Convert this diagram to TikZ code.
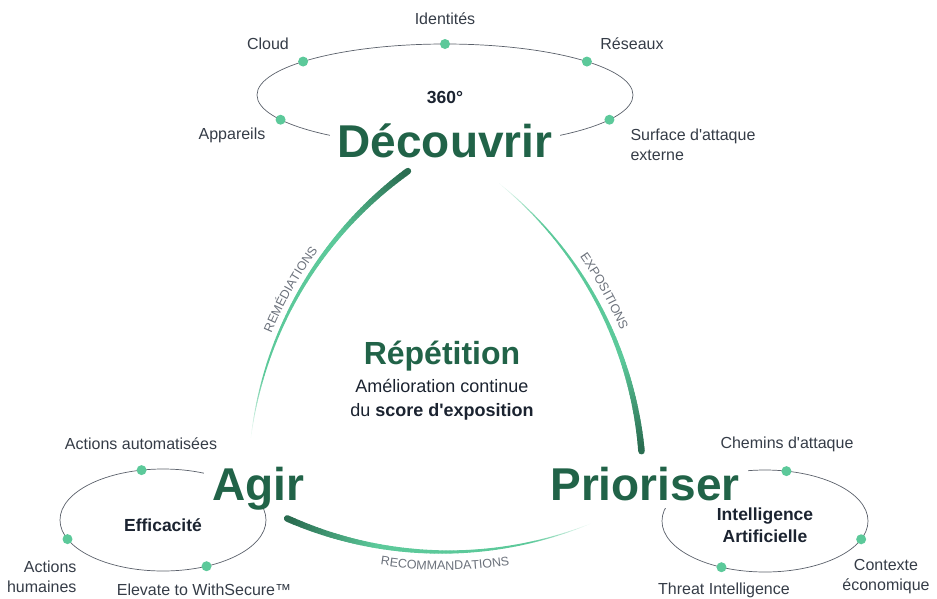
\documentclass[tikz,border=0pt]{standalone}
\usepackage{fontspec}
\setmainfont{Liberation Sans}
\usetikzlibrary{calc,decorations.text}
\definecolor{phasegreen}{HTML}{216348}
\definecolor{dotgreen}{HTML}{5CC99A}
\definecolor{arcmint}{HTML}{5CC99A}
\definecolor{arcdark}{HTML}{2A6D51}
\definecolor{labelgray}{HTML}{353C47}
\definecolor{coreblue}{HTML}{1B2330}
\definecolor{ringgray}{HTML}{5A606A}
\definecolor{arclabel}{HTML}{6B717B}

\begin{document}
\begin{tikzpicture}[x=1pt,y=-1pt]
\useasboundingbox (0,0) rectangle (937,598);
\tikzstyle{ring}=[draw=ringgray,line width=0.7pt];
\tikzstyle{dot}=[circle,fill=dotgreen,inner sep=0pt,minimum size=10pt];
\tikzstyle{item}=[font=\fontsize{16}{20}\selectfont,text=labelgray];
\tikzstyle{core}=[font=\bfseries\fontsize{17.5}{22}\selectfont,text=coreblue];
\tikzstyle{phase}=[font=\bfseries\fontsize{46}{46}\selectfont,text=phasegreen,
  fill=white,anchor=base,inner xsep=8pt,inner ysep=0pt,text depth=8pt];
\coordinate (E1) at (445,95);
\coordinate (E2) at (163,520);
\coordinate (E3) at (765,521);
\coordinate (VD) at (445,164);
\coordinate (VA) at (255,485);
\coordinate (VP) at (636,485);
% rings
\draw[ring] (E1) ellipse [x radius=188,y radius=51];
\draw[ring] (E2) ellipse [x radius=103,y radius=51];
\draw[ring] (E3) ellipse [x radius=103,y radius=51];
\node[dot] (d11) at ($(E1)+(270:188 and 51)$) {};
\node[dot] (d12) at ($(E1)+(221:188 and 51)$) {};
\node[dot] (d13) at ($(E1)+(319:188 and 51)$) {};
\node[dot] (d14) at ($(E1)+(151:188 and 51)$) {};
\node[dot] (d15) at ($(E1)+(29:188 and 51)$) {};
\node[dot] (d21) at ($(E2)+(258:103 and 51)$) {};
\node[dot] (d22) at ($(E2)+(158:103 and 51)$) {};
\node[dot] (d23) at ($(E2)+(65:103 and 51)$) {};
\node[dot] (d31) at ($(E3)+(282:103 and 51)$) {};
\node[dot] (d32) at ($(E3)+(21:103 and 51)$) {};
\node[dot] (d33) at ($(E3)+(115:103 and 51)$) {};
% labels
\node[item] (l11) at (445,19) {Identités};
\node[item] (l12) at (268,44) {Cloud};
\node[item] (l13) at (632,44) {Réseaux};
\node[item] (l14) at (232,135) {Appareils};
\node[item,anchor=west,align=left] (l15) at (627,145) {Surface d\textquotesingle attaque\\externe};
\node[item] (l21) at (141,444) {Actions automatisées};
\node[item,anchor=east,align=right] (l22) at (80,577) {Actions\\humaines};
\node[item] (l23) at (204,590) {Elevate to WithSecure™};
\node[item] (l31) at (787,444) {Chemins d\textquotesingle attaque};
\node[item,align=center] (l32) at (886,577) {Contexte\\économique};
\node[item] (l33) at (724,590) {Threat Intelligence};
\node[core,anchor=base] (c1) at (445,103) {360°};
\node[core,anchor=base] (c2) at (163,531) {Efficacité};
\node[core,align=center] (c3) at (765,525) {Intelligence\\Artificielle};
% phases
\node[phase] (D) at (445,157) {Découvrir};
\node[phase] (A) at (258,500) {Agir};
\node[phase] (P) at (645,500) {Prioriser};
\node[font=\bfseries\fontsize{32}{32}\selectfont,text=phasegreen,anchor=base] (R) at (442,364) {Répétition};
\node[font=\fontsize{18}{18}\selectfont,text=coreblue,anchor=base] (R1) at (442,392) {Amélioration continue};
\node[font=\fontsize{18}{18}\selectfont,text=coreblue,anchor=base] (R2) at (442,416) {du \textbf{score d\textquotesingle exposition}};
% tapered arcs
\foreach \v/\T/\K in {VP/187/234,VA/-51/-5,VD/68/114}{
  \foreach \i in {0,...,79}{
    \pgfmathsetmacro\aa{\T+(\K-\T)*\i/80}
    \pgfmathsetmacro\ab{\T+(\K-\T)*(\i+1)/80}
    \pgfmathsetmacro\w{0.3+6.2*(\i+1)/80}
    \pgfmathsetmacro\pa{min(100,(\i+1)*6)}
    \pgfmathsetmacro\pb{max(0,(\i-56)*100/23)}
    \colorlet{segcol}{arcdark!\pb!arcmint}
    \colorlet{segcol}{segcol!\pa!white}
    \draw[line width=\w pt,segcol,line cap=round] ($(\v)+(\aa:388)$)
      arc[start angle=\aa,end angle=\ab,radius=388];
  }
}
\path[decorate,decoration={text along path,text align=center,text color=arclabel,
  text={|\fontsize{12.5}{12.5}\selectfont|REMÉDIATIONS}}]
  ($(VP)+(197:395)$) arc[start angle=197,end angle=222,radius=395];
\path[decorate,decoration={text along path,text align=center,text color=arclabel,
  text={|\fontsize{12.5}{12.5}\selectfont|EXPOSITIONS}}]
  ($(VA)+(-41:397)$) arc[start angle=-41,end angle=-17,radius=397];
\path[decorate,decoration={text along path,text align=center,text color=arclabel,
  text={|\fontsize{12.5}{12.5}\selectfont|RECOMMANDATIONS}}]
  ($(VD)+(102:406)$) arc[start angle=102,end angle=78,radius=406];
\end{tikzpicture}
\end{document}
